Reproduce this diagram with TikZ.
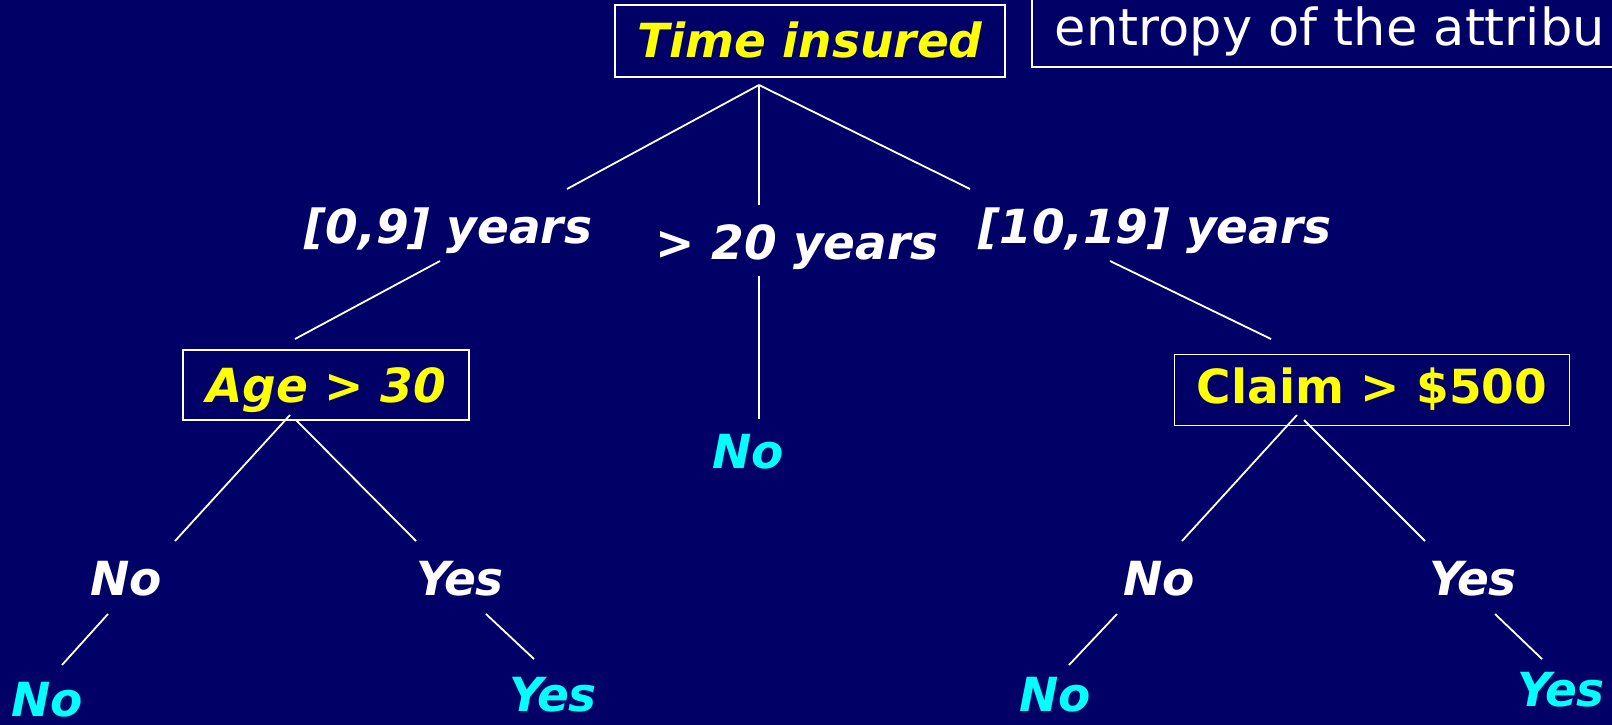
\documentclass[tikz,border=0pt]{standalone}
\usepackage{fontspec}
\setmainfont{DejaVu Sans}[ItalicFont={DejaVu Sans Oblique},BoldItalicFont={DejaVu Sans Bold Oblique}]
\usetikzlibrary{positioning}
\definecolor{slide}{HTML}{000066}
\definecolor{attr}{HTML}{FFFF00}
\definecolor{leafcyan}{HTML}{00FFFF}
\newcommand{\treefont}{\fontsize{47}{52}\selectfont\bfseries\itshape}

\begin{document}
\begin{tikzpicture}[x=1pt,y=-1pt,
  attrbox/.style={draw=white,line width=1.9pt,text=attr,font=\treefont,inner sep=0pt,text height=34pt,text depth=0pt},
  notebox/.style={draw=white,line width=1.9pt,text=white,font=\fontsize{51}{56}\selectfont,inner xsep=23pt,inner ysep=0pt,minimum height=74pt,text height=30pt,text depth=0pt},
  branch/.style={text=white,font=\treefont,inner sep=0pt,anchor=base},
  leafnode/.style={branch,text=leafcyan},
  link/.style={draw=white,line width=1.8pt}]
\useasboundingbox (0,0) rectangle (1612,725);
\fill[slide] (0,0) rectangle (1612,725);
\clip (0,0) rectangle (1612,725);

% tests
\node[attrbox,minimum width=390pt,minimum height=72pt] (root) at (810,41) {Time insured};
\node[notebox,anchor=south west] (note) at (1031,68) {entropy of the attribu};
\node[attrbox,minimum width=286pt,minimum height=70pt] (age) at (326,385) {Age > 30};
\node[attrbox,minimum width=395pt,minimum height=71pt,font=\fontsize{47}{52}\selectfont\bfseries,text height=26pt] (claim) at (1372,390) {Claim > \$500};

% branch values
\node[branch] (y09) at (448,243) {[0,9] years};
\node[branch] (y20) at (797,259) {> 20 years};
\node[branch] (y1019) at (1155,243) {[10,19] years};
\node[branch] (ageno) at (126,595) {No};
\node[branch] (ageyes) at (460,595) {Yes};
\node[branch] (clno) at (1159,595) {No};
\node[branch] (clyes) at (1473,595) {Yes};

% leaves
\node[leafnode] (no20) at (748,468) {No};
\node[leafnode] (agenoleaf) at (47,716) {No};
\node[leafnode] (ageyesleaf) at (553,711) {Yes};
\node[leafnode] (clnoleaf) at (1055,711) {No};
\node[leafnode] (clyesleaf) at (1561,706) {Yes};

% line ends
\coordinate (root-s) at (759,85);
\coordinate (y09-n) at (567,189);
\coordinate (y20-n) at (759,205);
\coordinate (y1019-n) at (970,189);
\coordinate (y09-s) at (440,261);
\coordinate (age-n) at (295,339);
\coordinate (y20-s) at (759,276);
\coordinate (no20-n) at (759,419);
\coordinate (y1019-s) at (1110,261);
\coordinate (claim-n) at (1271,339);
\coordinate (age-sw) at (290,415);
\coordinate (age-se) at (296,420);
\coordinate (ageno-n) at (175,541);
\coordinate (ageyes-n) at (416,541);
\coordinate (ageno-s) at (108,614);
\coordinate (ageyes-s) at (486,614);
\coordinate (agenoleaf-n) at (62,665);
\coordinate (ageyesleaf-n) at (534,659);
\coordinate (claim-sw) at (1297,415);
\coordinate (claim-se) at (1304,420);
\coordinate (clno-n) at (1182,541);
\coordinate (clyes-n) at (1425,541);
\coordinate (clno-s) at (1117,614);
\coordinate (clyes-s) at (1495,614);
\coordinate (clnoleaf-n) at (1069,665);
\coordinate (clyesleaf-n) at (1542,659);

\foreach \a/\b in {root-s/y09-n,root-s/y20-n,root-s/y1019-n,
    y09-s/age-n,y20-s/no20-n,y1019-s/claim-n,
    age-sw/ageno-n,age-se/ageyes-n,ageno-s/agenoleaf-n,ageyes-s/ageyesleaf-n,
    claim-sw/clno-n,claim-se/clyes-n,clno-s/clnoleaf-n,clyes-s/clyesleaf-n}
  \draw[link] (\a) -- (\b);
\end{tikzpicture}
\end{document}
